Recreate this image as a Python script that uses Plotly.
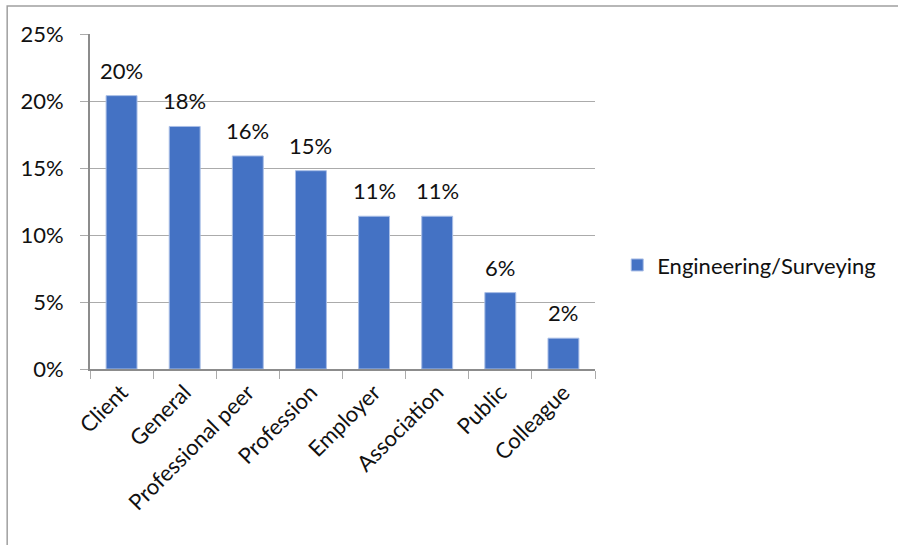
import plotly.graph_objects as go

categories = ["Client", "General", "Professional peer", "Profession",
              "Employer", "Association", "Public", "Colleague"]
values = [0.204, 0.181, 0.159, 0.148, 0.114, 0.114, 0.057, 0.023]
series_name = "Engineering/Surveying"
y_ticks = [0, 0.05, 0.10, 0.15, 0.20, 0.25]
y_tick_labels = ["0%", "5%", "10%", "15%", "20%", "25%"]

FONT = "Lato, Calibri, sans-serif"
FS = 22
BLUE = "#4472C4"
GRID = "#ABABAB"
AXIS = "#8C8C8C"

fig = go.Figure()
fig.add_trace(go.Bar(
    x=categories, y=values, name=series_name,
    marker=dict(color=BLUE, line=dict(color="#A9BEE6", width=1)),
    width=0.49, showlegend=True,
))

for c, v in zip(categories, values):
    fig.add_annotation(x=c, y=v, text=f"{round(v*100):d}%", showarrow=False,
                       yanchor="bottom", yshift=10,
                       font=dict(family=FONT, size=FS, color="#111111"))

fig.update_layout(
    width=898, height=545,
    margin=dict(l=90, r=303, t=34, b=176),
    paper_bgcolor="white", plot_bgcolor="white",
    font=dict(family=FONT, size=FS, color="#111111"),
    bargap=0.51,
    legend=dict(x=1.044, xanchor="left", y=0.31, yanchor="middle",
                xref="paper", font=dict(size=FS, family=FONT),
                itemwidth=30, tracegroupgap=0),
    showlegend=True,
)
fig.update_yaxes(
    range=[0, 0.25], tickvals=y_ticks, ticktext=y_tick_labels,
    showgrid=True, gridcolor=GRID, gridwidth=1,
    showline=True, linecolor=AXIS, linewidth=2,
    ticks="outside", ticklen=8, tickcolor=GRID,
    ticklabelstandoff=12, zeroline=False,
    tickfont=dict(family=FONT, size=FS, color="#111111"),
)
fig.update_xaxes(
    tickangle=-45, showline=True, linecolor=AXIS, linewidth=2,
    ticks="outside", ticklen=8, tickcolor=GRID, tickson="boundaries",
    showgrid=False, mirror=False,
    tickfont=dict(family=FONT, size=FS, color="#111111"),
)
# chart border
fig.add_shape(type="rect", xref="paper", yref="paper",
              x0=-0.164, x1=1.7, y0=-0.55, y1=1.0836,
              line=dict(color="#A0A0A0", width=1.5), layer="below")

fig.write_html("out.html")
